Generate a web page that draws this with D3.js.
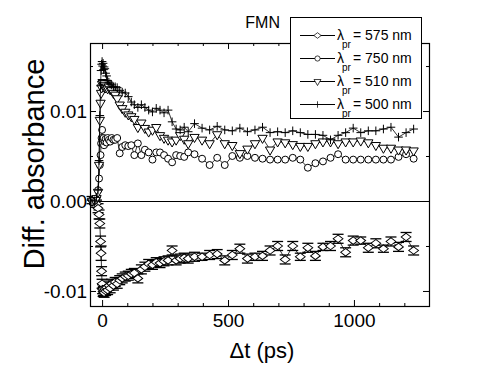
<!DOCTYPE html>
<html>
<head>
<meta charset="utf-8">
<script src="https://cdn.jsdelivr.net/npm/d3@7"></script>
<style>
body { margin: 0; background: #fff; }
text { font-family: "Liberation Sans", Arial, sans-serif; fill: #000; }
</style>
</head>
<body>
<div id="chart"></div>
<script>
// pump-probe delays (ps), shared by all four probe wavelengths
const delays = [-40, -30, -22, -16, -12, -9, -6, -4, -2, 0,
  2, 4, 6, 8, 11, 14, 18, 22, 27, 32,
  38, 45, 52, 60, 70, 80, 92, 104, 116, 128,
  142, 156, 170, 185, 200, 215, 230, 246, 262, 278,
  294, 310, 326, 342, 367, 397, 427, 457, 487, 517,
  547, 577, 607, 637, 667, 697, 727, 757, 787, 817,
  847, 877, 907, 937, 967, 997, 1027, 1057, 1087, 1117,
  1147, 1177, 1207, 1237];

const dA575 = [0.0001, 0.0000, -0.0003, -0.0008, -0.0015, -0.0025, -0.0045, -0.0058, -0.0078, -0.0092,
  -0.0098, -0.0101, -0.0100, -0.0102, -0.0098, -0.0100, -0.0096, -0.0099, -0.0094, -0.0097,
  -0.0092, -0.0094, -0.0090, -0.0092, -0.0088, -0.0086, -0.0084, -0.0083, -0.0081, -0.0080,
  -0.0086, -0.0076, -0.0073, -0.0070, -0.0071, -0.0068, -0.0069, -0.0067, -0.0066, -0.0055,
  -0.0066, -0.0064, -0.0063, -0.0064, -0.0062, -0.0062, -0.0060, -0.0059, -0.0066, -0.0060,
  -0.0053, -0.0064, -0.0062, -0.0061, -0.0055, -0.0050, -0.0065, -0.0050, -0.0062, -0.0052,
  -0.0061, -0.0051, -0.0050, -0.0042, -0.0057, -0.0044, -0.0044, -0.0052, -0.0047, -0.0053,
  -0.0045, -0.0051, -0.0040, -0.0055];

const err575 = [0.0004, 0.0004, 0.0004, 0.0005, 0.0005, 0.0005, 0.0006, 0.0008, 0.0005, 0.0005,
  0.0005, 0.0005, 0.0005, 0.0005, 0.0005, 0.0005, 0.0005, 0.0005, 0.0005, 0.0005,
  0.0005, 0.0005, 0.0005, 0.0005, 0.0005, 0.0005, 0.0005, 0.0005, 0.0005, 0.0005,
  0.0005, 0.0005, 0.0005, 0.0005, 0.0005, 0.0005, 0.0005, 0.0005, 0.0005, 0.0005,
  0.0005, 0.0005, 0.0005, 0.0005, 0.0005, 0.0004, 0.0005, 0.0005, 0.0005, 0.0005,
  0.0005, 0.0005, 0.0004, 0.0005, 0.0005, 0.0005, 0.0005, 0.0005, 0.0004, 0.0005,
  0.0005, 0.0004, 0.0005, 0.0005, 0.0005, 0.0005, 0.0004, 0.0005, 0.0005, 0.0004,
  0.0005, 0.0005, 0.0005, 0.0005];

const dA750 = [0.0001, 0.0000, 0.0003, 0.0012, 0.0025, 0.0040, 0.0051, 0.0064, 0.0070, 0.0079,
  0.0068, 0.0064, 0.0070, 0.0062, 0.0066, 0.0069, 0.0065, 0.0070, 0.0068, 0.0066,
  0.0070, 0.0068, 0.0068, 0.0070, 0.0053, 0.0060, 0.0062, 0.0061, 0.0062, 0.0051,
  0.0064, 0.0051, 0.0057, 0.0054, 0.0046, 0.0054, 0.0054, 0.0051, 0.0047, 0.0043,
  0.0051, 0.0050, 0.0049, 0.0054, 0.0052, 0.0047, 0.0040, 0.0048, 0.0040, 0.0050,
  0.0048, 0.0050, 0.0048, 0.0047, 0.0046, 0.0046, 0.0046, 0.0048, 0.0046, 0.0037,
  0.0042, 0.0044, 0.0048, 0.0052, 0.0046, 0.0046, 0.0046, 0.0046, 0.0046, 0.0046,
  0.0046, 0.0049, 0.0052, 0.0047];

const dA510 = [0.0000, 0.0001, 0.0003, 0.0010, 0.0040, 0.0090, 0.0109, 0.0120, 0.0126, 0.0130,
  0.0132, 0.0131, 0.0128, 0.0127, 0.0129, 0.0126, 0.0127, 0.0125, 0.0127, 0.0124,
  0.0123, 0.0120, 0.0118, 0.0114, 0.0107, 0.0103, 0.0099, 0.0096, 0.0094, 0.0091,
  0.0082, 0.0087, 0.0081, 0.0077, 0.0079, 0.0082, 0.0073, 0.0070, 0.0068, 0.0066,
  0.0068, 0.0073, 0.0069, 0.0064, 0.0071, 0.0068, 0.0064, 0.0074, 0.0064, 0.0062,
  0.0053, 0.0058, 0.0064, 0.0070, 0.0057, 0.0066, 0.0065, 0.0063, 0.0061, 0.0061,
  0.0064, 0.0066, 0.0066, 0.0064, 0.0066, 0.0066, 0.0067, 0.0065, 0.0062, 0.0059,
  0.0059, 0.0057, 0.0057, 0.0056];

const dA500 = [0.0001, 0.0000, 0.0004, 0.0012, 0.0045, 0.0095, 0.0128, 0.0145, 0.0152, 0.0155,
  0.0150, 0.0153, 0.0146, 0.0149, 0.0147, 0.0142, 0.0139, 0.0134, 0.0132, 0.0130,
  0.0129, 0.0127, 0.0127, 0.0126, 0.0123, 0.0121, 0.0120, 0.0116, 0.0110, 0.0107,
  0.0104, 0.0107, 0.0104, 0.0101, 0.0099, 0.0103, 0.0101, 0.0098, 0.0101, 0.0088,
  0.0080, 0.0079, 0.0082, 0.0077, 0.0086, 0.0081, 0.0079, 0.0083, 0.0079, 0.0078,
  0.0081, 0.0077, 0.0079, 0.0082, 0.0076, 0.0077, 0.0076, 0.0078, 0.0076, 0.0074,
  0.0074, 0.0073, 0.0068, 0.0073, 0.0076, 0.0081, 0.0076, 0.0078, 0.0078, 0.0080,
  0.0082, 0.0071, 0.0076, 0.0080];

const probeLabels = ["575", "750", "510", "500"]; // nm, legend order
const xMajor = [0, 500, 1000];
const xMinor = [100, 200, 300, 400, 600, 700, 800, 900, 1100, 1200];
const yMajor = [-0.01, 0.00, 0.01];
const yMinor = [-0.005, 0.005, 0.015];

const W = 497, H = 368;
const L = 90, R = 429, T = 43, B = 306; // plot frame

var svg = d3.select("#chart").append("svg")
  .attr("width", W).attr("height", H);

var x = d3.scaleLinear().domain([-48, 1298]).range([L, R]);
var y = d3.scaleLinear().domain([-0.01167, 0.01756]).range([B, T]);

// symbol shapes
const sym = {
  diamond: d3.symbol(d3.symbolDiamond2, 50)(),
  circle: d3.symbol(d3.symbolCircle, 38)(),
  triangle: d3.symbol(d3.symbolTriangle2, 62)(),
  plus: d3.symbol(d3.symbolPlus, 26)()
};

const series = [
  {label: probeLabels[0], values: dA575, err: err575, shape: "diamond"},
  {label: probeLabels[1], values: dA750, shape: "circle"},
  {label: probeLabels[2], values: dA510, shape: "triangle"},
  {label: probeLabels[3], values: dA500, shape: "plus"}
];

function markerTransform(shape, px, py, k) {
  k = k || 1;
  if (shape == "triangle") return "translate(" + px + "," + py + ") scale(" + k + ") rotate(180)";
  if (shape == "diamond") return "translate(" + px + "," + py + ") scale(" + (1.1 * k) + "," + (0.85 * k) + ")";
  return "translate(" + px + "," + py + ") scale(" + k + ")";
}

// axes (ticks pointing inward on all four sides)
function noLabel() { return ""; }
svg.append("g").attr("transform", "translate(0," + B + ")")
  .call(d3.axisBottom(x).tickValues(xMajor).tickSize(-6).tickPadding(8).tickFormat(d3.format("d")));
svg.append("g").attr("transform", "translate(0," + B + ")")
  .call(d3.axisBottom(x).tickValues(xMinor).tickSize(-3).tickFormat(noLabel));
svg.append("g").attr("transform", "translate(0," + T + ")")
  .call(d3.axisTop(x).tickValues(xMajor).tickSize(-6).tickFormat(noLabel));
svg.append("g").attr("transform", "translate(0," + T + ")")
  .call(d3.axisTop(x).tickValues(xMinor).tickSize(-3).tickFormat(noLabel));
svg.append("g").attr("transform", "translate(" + L + ",0)")
  .call(d3.axisLeft(y).tickValues(yMajor).tickSize(-6).tickPadding(3).tickFormat(d => d.toFixed(2)));
svg.append("g").attr("transform", "translate(" + L + ",0)")
  .call(d3.axisLeft(y).tickValues(yMinor).tickSize(-3).tickFormat(noLabel));
svg.append("g").attr("transform", "translate(" + R + ",0)")
  .call(d3.axisRight(y).tickValues(yMajor).tickSize(-6).tickFormat(noLabel));
svg.append("g").attr("transform", "translate(" + R + ",0)")
  .call(d3.axisRight(y).tickValues(yMinor).tickSize(-3).tickFormat(noLabel));

svg.selectAll(".domain").remove();
svg.selectAll(".tick line").attr("stroke", "#000");
svg.selectAll(".tick text")
  .style("font-family", "'Liberation Sans', Arial, sans-serif")
  .style("font-size", "19px").attr("fill", "#000");

// zero line
svg.append("line")
  .attr("x1", L).attr("x2", R)
  .attr("y1", Math.round(y(0)) + 0.5).attr("y2", Math.round(y(0)) + 0.5)
  .attr("stroke", "#000").attr("stroke-width", 1);

var line = d3.line()
  .x((d, i) => x(delays[i]))
  .y(d => y(d));

series.forEach(function(s) {
  var g = svg.append("g").attr("class", "series");
  g.append("path")
    .datum(s.values)
    .attr("d", line)
    .attr("fill", "none")
    .attr("stroke", "#000")
    .attr("stroke-width", 0.8);

  if (s.err) { // error bars with caps
    var eb = g.selectAll(".err").data(s.values).enter().append("g").attr("class", "err");
    eb.append("line")
      .attr("x1", (d, i) => x(delays[i])).attr("x2", (d, i) => x(delays[i]))
      .attr("y1", (d, i) => y(d - s.err[i])).attr("y2", (d, i) => y(d + s.err[i]))
      .attr("stroke", "#000");
    [-1, 1].forEach(function(sg) {
      eb.append("line")
        .attr("x1", (d, i) => x(delays[i]) - 5.5).attr("x2", (d, i) => x(delays[i]) + 5.5)
        .attr("y1", (d, i) => y(d + sg * s.err[i])).attr("y2", (d, i) => y(d + sg * s.err[i]))
        .attr("stroke", "#000").attr("stroke-width", 1.3);
    });
  }

  g.selectAll(".pt").data(s.values).enter().append("path")
    .attr("class", "pt")
    .attr("d", sym[s.shape])
    .attr("transform", (d, i) => markerTransform(s.shape, x(delays[i]), y(d)))
    .attr("fill", s.shape == "plus" ? "none" : "#fff")
    .attr("stroke", "#000")
    .attr("stroke-width", 1);
});

// frame
svg.append("rect")
  .attr("x", L + 0.5).attr("y", T + 0.5)
  .attr("width", R - L).attr("height", B - T)
  .attr("fill", "none").attr("stroke", "#000").attr("stroke-width", 1.2);

// title
svg.append("text")
  .attr("x", 280).attr("y", 28)
  .attr("text-anchor", "end")
  .style("font-size", "16px")
  .text("FMN");

// axis titles
svg.append("text")
  .attr("x", 262).attr("y", 358)
  .attr("text-anchor", "middle")
  .style("font-size", "22px")
  .text("\u0394t (ps)");

svg.append("text")
  .attr("transform", "translate(44,164) rotate(-90)")
  .attr("text-anchor", "middle")
  .style("font-size", "29px")
  .text("Diff. absorbance");

// legend
var legend = svg.append("g").attr("id", "legend");
legend.append("rect")
  .attr("x", 290.5).attr("y", 17.5).attr("width", 131).attr("height", 101)
  .attr("fill", "#fff").attr("stroke", "#000");

series.forEach(function(s, i) {
  var ly = 35 + i * 23;
  var row = legend.append("g").attr("transform", "translate(0," + ly + ")");
  row.append("line").attr("x1", 300).attr("x2", 335).attr("y1", 0.5).attr("y2", 0.5)
    .attr("stroke", "#000");
  row.append("path")
    .attr("d", sym[s.shape])
    .attr("transform", markerTransform(s.shape, 317.5, 0.5, 0.75))
    .attr("fill", s.shape == "plus" ? "none" : "#fff")
    .attr("stroke", "#000");
  row.append("text").attr("x", 337).attr("y", 5).style("font-size", "14px").text("\u03bb");
  row.append("text").attr("x", 342).attr("y", 13).style("font-size", "10px").text("pr");
  row.append("text").attr("x", 353).attr("y", 5).style("font-size", "14px").text("= " + s.label + " nm");
});
</script>
</body>
</html>
